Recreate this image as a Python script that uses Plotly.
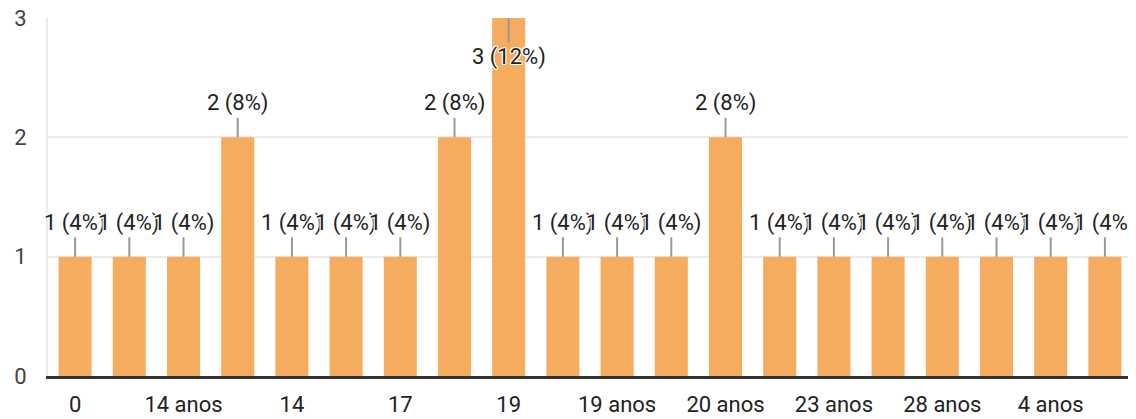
import plotly.graph_objects as go

# categories (only every other one gets a visible tick label, as in the original)
categories = ["0", "13 anos", "14 anos", "15 anos", "14", "15", "17", "18", "19", "18 anos",
              "19 anos", "20", "20 anos", "21 anos", "23 anos", "25 anos", "28 anos", "30 anos",
              "4 anos", "5 anos"]
counts = [1, 1, 1, 2, 1, 1, 1, 2, 3, 1, 1, 1, 2, 1, 1, 1, 1, 1, 1, 1]
y_ticks = [0, 1, 2, 3]

total = sum(counts)
xs = list(range(len(categories)))

fig = go.Figure(go.Bar(
    x=xs,
    y=counts,
    marker=dict(color="#F6AC5F", line_width=0),
    hovertext=categories,
))

halo = ("-1px -1px 0 #fff, 1px -1px 0 #fff, -1px 1px 0 #fff, 1px 1px 0 #fff, "
        "0 -1px 0 #fff, 0 1px 0 #fff, -1px 0 0 #fff, 1px 0 0 #fff")

ymax = max(y_ticks)
for x, v in zip(xs, counts):
    pct = round(100 * v / total)
    inside = v >= ymax  # no room above the tallest bar -> label goes below its top
    fig.add_annotation(
        x=x, y=v, xref="x", yref="y",
        text=f"{v} ({pct}%)",
        showarrow=True, arrowhead=0, arrowwidth=2, arrowcolor="#999999",
        standoff=0, ax=0, ay=39 if inside else -34,
        font=dict(family="Roboto, Arial, sans-serif", size=22, color="#222222", shadow=halo),
    )

# the page body keeps its default 8px margin, so the figure is 8px smaller than the window
fig.update_layout(
    width=1128,
    height=411,
    margin=dict(l=40, r=4, t=10, b=43),
    plot_bgcolor="white",
    paper_bgcolor="white",
    showlegend=False,
    bargap=0.39,
    font=dict(family="Roboto, Arial, sans-serif", size=22, color="#222222"),
    xaxis=dict(
        range=[-0.5, len(categories) - 0.5],
        tickvals=xs[::2],
        ticktext=categories[::2],
        showgrid=False,
        zeroline=False,
        showline=True, linecolor="#333333", linewidth=3,
        ticks="", ticklabelstandoff=7,
        tickfont=dict(size=22, color="#222222"),
        automargin=False,
        fixedrange=True,
    ),
    yaxis=dict(
        range=[0, ymax],
        tickvals=y_ticks,
        showgrid=True, gridcolor="#ebebeb", gridwidth=2,
        zeroline=False,
        showline=True, linecolor="#ebebeb", linewidth=2, mirror=True,
        ticks="", ticklabelstandoff=15, ticklabeloverflow="allow",
        tickfont=dict(size=22, color="#444444"),
        automargin=False,
        fixedrange=True,
    ),
)

fig.write_html("out.html")
